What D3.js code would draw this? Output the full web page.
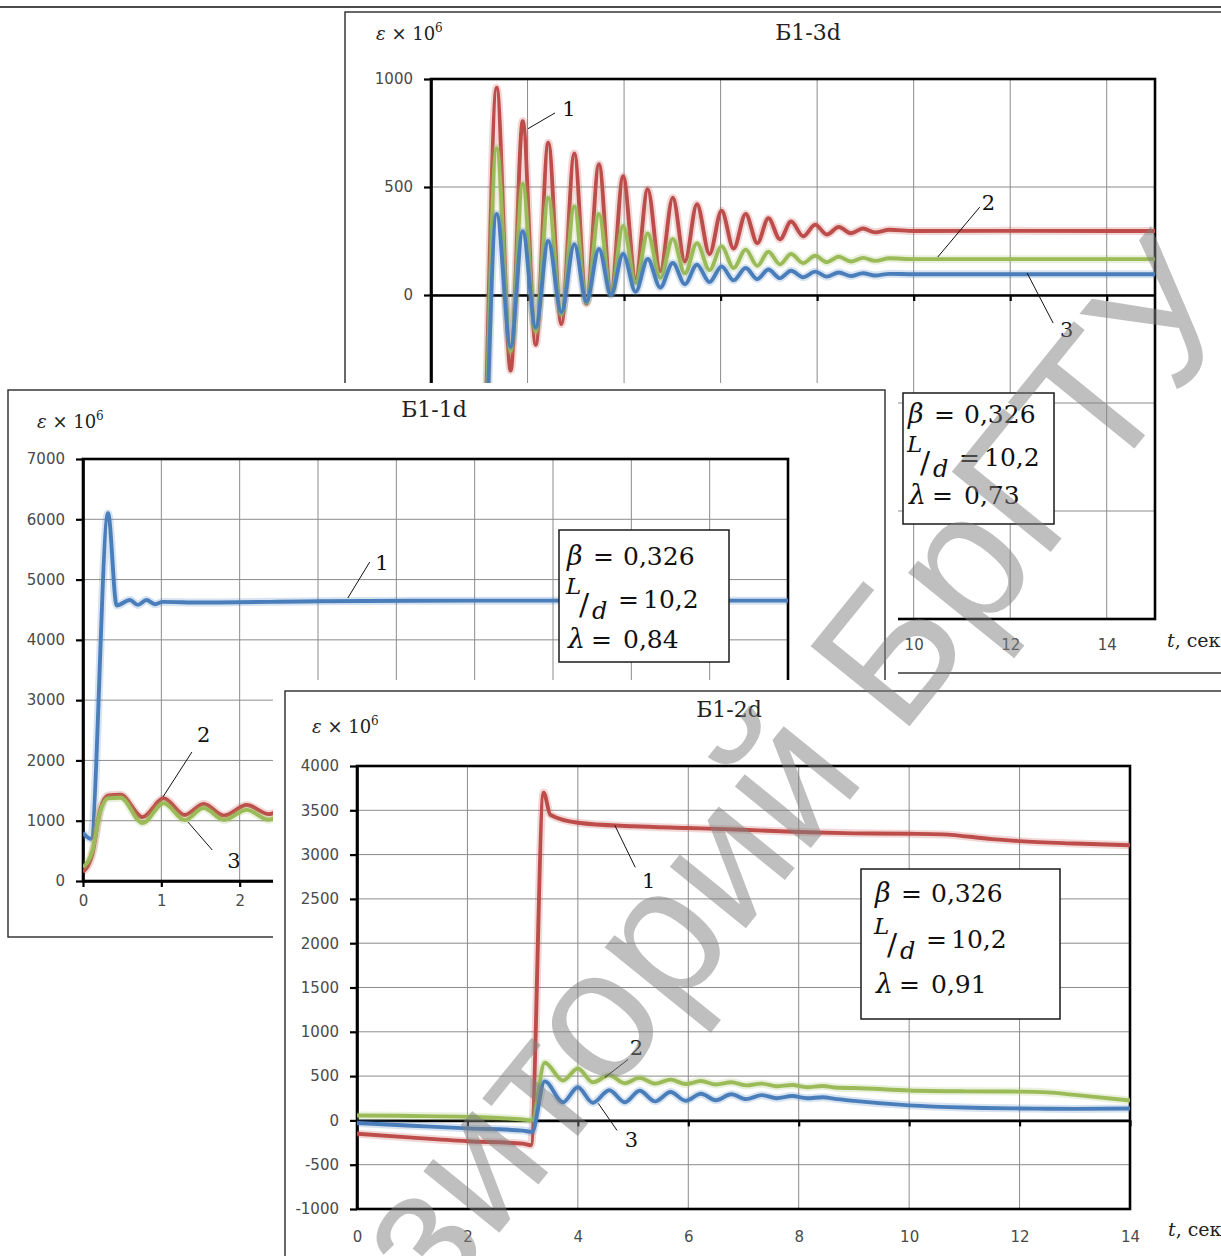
<!DOCTYPE html>
<html><head><meta charset="utf-8">
<script src="https://cdn.jsdelivr.net/npm/d3@7"></script>
<style>body{margin:0;background:#fff}svg{display:block}</style>
</head><body>
<svg id="c" width="1221" height="1256"></svg>
<script>
// ===== Chart Б1-3d (top) =====
const tA = [0, 0.98, 1.36, 1.65, 1.9, 2.17, 2.43, 2.7, 2.97, 3.22, 3.48, 3.73, 3.98, 4.24, 4.49, 4.75, 5.01, 5.26, 5.51, 5.77, 6.02, 6.27, 6.52, 6.76, 6.99, 7.23, 7.46, 7.71, 7.96, 8.2, 8.45, 8.7, 8.95, 9.2, 9.5, 10, 12, 14, 15];
const redA = [-1480, -1480, 960, -350, 805, -230, 705, -135, 655, -40, 605, 10, 550, 75, 490, 110, 450, 155, 420, 190, 390, 215, 375, 240, 355, 258, 340, 272, 325, 280, 315, 286, 308, 290, 302, 296, 297, 296, 296];
const greenA = [-1480, -1480, 680, -260, 515, -170, 450, -90, 410, -35, 375, 5, 320, 55, 285, 80, 260, 100, 240, 115, 225, 125, 210, 135, 200, 142, 190, 148, 182, 152, 177, 155, 172, 158, 170, 166, 166, 166, 166];
const blueA = [-1480, -1480, 375, -240, 295, -150, 250, -80, 235, -30, 213, 0, 190, 15, 167, 35, 148, 50, 140, 60, 132, 68, 125, 74, 118, 78, 112, 82, 108, 85, 104, 88, 101, 90, 98, 96, 96, 96, 96];
const xTicksA = [0, 2, 4, 6, 8, 10, 12, 14];
const yTicksA = [-1500, -1000, -500, 0, 500, 1000];

// ===== Chart Б1-1d (middle) =====
const tB1 = [0, 0.1, 0.32, 0.43, 0.6, 0.7, 0.81, 0.92, 1.02, 1.5, 3, 5, 7, 9];
const blueB = [800, 700, 6100, 4570, 4660, 4580, 4660, 4590, 4630, 4620, 4640, 4650, 4650, 4650];
const tB2 = [0, 0.12, 0.22, 0.32, 0.48, 0.76, 1.03, 1.3, 1.54, 1.8, 2.09, 2.37, 2.65, 2.93, 3.21, 3.5, 4.5, 6, 9];
const redB = [150, 450, 1180, 1420, 1430, 1060, 1370, 1095, 1280, 1085, 1260, 1110, 1240, 1120, 1220, 1140, 1180, 1170, 1170];
const greenB = [230, 500, 1150, 1370, 1380, 960, 1290, 1010, 1210, 1010, 1180, 1015, 1160, 1020, 1140, 1030, 1080, 1070, 1070];
const xTicksB = [0, 1, 2, 3, 4, 5, 6, 7, 8, 9];
const yTicksB = [0, 1000, 2000, 3000, 4000, 5000, 6000, 7000];

// ===== Chart Б1-2d (bottom) =====
const tC1 = [0, 1, 2, 3, 3.15, 3.38, 3.5, 4, 5, 6, 7, 8, 9, 10, 10.6, 11.5, 12, 13, 14];
const redC = [-150, -195, -235, -262, -280, 3700, 3450, 3360, 3320, 3300, 3280, 3255, 3240, 3235, 3228, 3175, 3152, 3125, 3105];
const tC2 = [0, 1, 2, 3, 3.17, 3.4, 3.73, 4.0, 4.27, 4.57, 4.85, 5.12, 5.4, 5.68, 5.95, 6.23, 6.5, 6.78, 7.05, 7.33, 7.6, 7.88, 8.15, 8.43, 8.7, 9, 10, 11, 12, 12.5, 13, 14];
const greenC = [55, 50, 40, 10, 0, 650, 450, 585, 430, 510, 420, 480, 415, 460, 410, 445, 405, 430, 395, 415, 385, 400, 375, 388, 368, 365, 338, 328, 325, 316, 288, 225];
const blueC = [-30, -60, -90, -115, -130, 440, 205, 375, 200, 340, 205, 335, 215, 320, 222, 300, 228, 295, 240, 285, 250, 275, 250, 262, 240, 220, 170, 145, 135, 132, 130, 135];
const xTicksC = [0, 2, 4, 6, 8, 10, 12, 14];
const yTicksC = [-1000, -500, 0, 500, 1000, 1500, 2000, 2500, 3000, 3500, 4000];

const titles = ["Б1-3d", "Б1-1d", "Б1-2d"];
const lambdas = ["0,73", "0,84", "0,91"];
const betaText = "0,326";
const ldText = "10,2";
const seriesNames = ["1", "2", "3"];
const watermark = ["Репозиторий", "БрГТУ"];

const RED = "#bd4d4a", GREEN = "#9bbb59", BLUE = "#4a7eba";
const SERIF = "'DejaVu Serif', 'Liberation Serif', serif";
const SANS = "'DejaVu Sans', Verdana, sans-serif";

const svg = d3.select("#c");

// page header rule
svg.append("line").attr("x1", 0).attr("x2", 1221).attr("y1", 7).attr("y2", 7)
  .attr("stroke", "#111").attr("stroke-width", 1.5);

function drawChart(o) {
  const g = svg.append("g");
  if (o.bg) g.append("rect").attr("x", o.bg[0]).attr("y", o.bg[1]).attr("width", o.bg[2]).attr("height", o.bg[3]).attr("fill", "#fff");
  g.append("rect").attr("x", o.panel[0]).attr("y", o.panel[1]).attr("width", o.panel[2]).attr("height", o.panel[3])
    .attr("fill", "#fff").attr("stroke", "#2a2a2a").attr("stroke-width", 1.4);

  const x = d3.scaleLinear().domain(o.xDom).range([o.plot[0], o.plot[2]]);
  const y = d3.scaleLinear().domain(o.yDom).range([o.plot[3], o.plot[1]]);

  // gridlines
  g.append("g").selectAll("line").data(o.xTicks.filter(d => d > o.xDom[0] && d < o.xDom[1])).join("line")
    .attr("x1", d => x(d)).attr("x2", d => x(d)).attr("y1", o.plot[1]).attr("y2", o.plot[3])
    .attr("stroke", "#8c8c8c").attr("stroke-width", 1);
  g.append("g").selectAll("line").data(o.yTicks.filter(d => d > o.yDom[0] && d < o.yDom[1])).join("line")
    .attr("y1", d => y(d)).attr("y2", d => y(d)).attr("x1", o.plot[0]).attr("x2", o.plot[2])
    .attr("stroke", "#8c8c8c").attr("stroke-width", 1);

  // plot border
  g.append("rect").attr("x", o.plot[0]).attr("y", o.plot[1]).attr("width", o.plot[2] - o.plot[0]).attr("height", o.plot[3] - o.plot[1])
    .attr("fill", "none").attr("stroke", "#000").attr("stroke-width", 2.6);

  // y axis (ticks everywhere, labels only where they are not covered by a later panel)
  const ya = g.append("g").attr("transform", `translate(${o.plot[0]},0)`)
    .call(d3.axisLeft(y).tickValues(o.yTicks).tickSize(7).tickPadding(11).tickSizeOuter(0)
      .tickFormat(d => o.yLabOk(y(d)) ? String(d) : ""));
  ya.select(".domain").attr("stroke", "#000").attr("stroke-width", 2.6);
  ya.selectAll(".tick line").attr("stroke", "#000").attr("stroke-width", 2.2);
  ya.attr("font-family", SANS).attr("font-size", 15);
  ya.selectAll("text").attr("fill", "#4a4a4a");

  // x axis line at zero with ticks
  const xa = g.append("g").attr("transform", `translate(0,${y(0)})`)
    .call(d3.axisBottom(x).tickValues(o.xTicks).tickSize(6).tickSizeOuter(0).tickFormat(""));
  xa.select(".domain").attr("stroke", "#000").attr("stroke-width", 2.6);
  xa.selectAll(".tick line").attr("stroke", "#000").attr("stroke-width", 2.2);

  // x labels at the bottom
  const xl = g.append("g").attr("transform", `translate(0,${o.xLabelY - 10.6})`)
    .call(d3.axisBottom(x).tickValues(o.xTicks.filter(d => o.xLabOk(x(d)))).tickSize(0).tickPadding(0).tickFormat(d => String(d)));
  xl.select(".domain").remove();
  xl.attr("font-family", SANS).attr("font-size", 15);
  xl.selectAll("text").attr("fill", "#4a4a4a");

  // series
  const cid = "clip" + o.id;
  g.append("clipPath").attr("id", cid).append("rect")
    .attr("x", o.plot[0]).attr("y", o.plot[1] - 2).attr("width", o.plot[2] - o.plot[0]).attr("height", o.plot[3] - o.plot[1] + 4);
  const sg = g.append("g").attr("clip-path", `url(#${cid})`);
  const line = d3.line().x(d => x(d[0])).y(d => y(d[1])).curve(d3.curveMonotoneX);
  o.series.forEach(s => {
    const pts = s.t.map((d, i) => [d, s.v[i]]);
    sg.append("path").attr("d", line(pts)).attr("fill", "none").attr("stroke", s.c)
      .attr("stroke-opacity", 0.22).attr("stroke-width", 8).attr("stroke-linejoin", "round");
    sg.append("path").attr("d", line(pts)).attr("fill", "none").attr("stroke", s.c)
      .attr("stroke-width", 3.9).attr("stroke-linejoin", "round");
  });

  // series labels with leader lines (data coordinates)
  o.notes.forEach(n => {
    g.append("line").attr("x1", x(n.a[0])).attr("y1", y(n.a[1])).attr("x2", x(n.b[0])).attr("y2", y(n.b[1]))
      .attr("stroke", "#111").attr("stroke-width", 1);
    g.append("text").attr("x", x(n.l[0])).attr("y", y(n.l[1])).attr("font-family", SERIF).attr("font-size", 21)
      .attr("fill", "#111").text(n.txt);
  });

  // title
  g.append("text").attr("x", o.title[0]).attr("y", o.title[1]).attr("text-anchor", "middle")
    .attr("font-family", SERIF).attr("font-size", 22).attr("fill", "#222").text(o.title[2]);
  // y unit label
  const eps = g.append("text").attr("x", o.eps[0]).attr("y", o.eps[1]).attr("font-family", SERIF).attr("font-size", 18).attr("fill", "#222");
  eps.append("tspan").attr("font-style", "italic").text("ε");
  eps.append("tspan").text(" × 10");
  eps.append("tspan").attr("font-size", 12).attr("dy", -8).text("6");
  // time label
  if (o.tlab) {
    const tl = g.append("text").attr("x", o.tlab[0]).attr("y", o.tlab[1]).attr("font-family", SERIF).attr("font-size", 19).attr("fill", "#222");
    tl.append("tspan").attr("font-style", "italic").text("t");
    tl.append("tspan").text(", сек");
  }

  // parameter box
  const b = o.box, bx = b[0], by = b[1], sh = b[4], r = b[5];
  g.append("rect").attr("x", bx).attr("y", by).attr("width", b[2]).attr("height", b[3])
    .attr("fill", "#fff").attr("stroke", "#1a1a1a").attr("stroke-width", 1.5);
  const T = (tx, ty, s, opt = {}) => g.append("text").attr("x", tx).attr("y", ty).attr("font-family", SERIF)
    .attr("font-size", opt.fs || 25).attr("font-style", opt.it ? "italic" : "normal").attr("fill", "#111").text(s);
  T(bx + 5 + sh, by + r[0], "β", {it: 1, fs: 27});
  T(bx + 31 + sh, by + r[0], "=");
  T(bx + 61 + sh, by + r[0], betaText);
  T(bx + 4 + sh, by + r[1] - 14, "L", {it: 1, fs: 23});
  T(bx + 17 + sh, by + r[1] + 7, "/", {fs: 30});
  T(bx + 30 + sh, by + r[1] + 11, "d", {it: 1, fs: 24});
  T(bx + 56 + sh, by + r[1], "=");
  T(bx + 81 + sh, by + r[1], ldText);
  T(bx + 6 + sh, by + r[2], "λ", {it: 1, fs: 27});
  T(bx + 29 + sh, by + r[2], "=");
  T(bx + 61 + sh, by + r[2], b[6]);
}

// top chart (partly covered by the middle panel: x < 898, y > 383)
drawChart({
  id: "A", panel: [345, 12, 900, 661], xDom: [0, 15], yDom: [-1500, 1000],
  plot: [431, 79, 1155, 619], xTicks: xTicksA, yTicks: yTicksA, xLabelY: 650,
  xLabOk: px => px > 898, yLabOk: py => py < 380,
  series: [{t: tA, v: redA, c: RED}, {t: tA, v: greenA, c: GREEN}, {t: tA, v: blueA, c: BLUE}],
  notes: [
    {a: [2.01, 770], b: [2.57, 843], l: [2.72, 829], txt: seriesNames[0]},
    {a: [10.5, 176], b: [11.37, 407], l: [11.41, 393], txt: seriesNames[1]},
    {a: [12.35, 102], b: [12.89, -130], l: [13.03, -194], txt: seriesNames[2]}
  ],
  title: [808, 40, titles[0]], eps: [376, 40], tlab: [1167, 647],
  box: [903, 393, 151, 131, 0, [30, 73, 111], lambdas[0]]
});

// middle chart (partly covered by the bottom panel: x > 273, y > 680)
drawChart({
  id: "B", bg: [0, 383, 898, 558], panel: [8, 390, 877, 547], xDom: [0, 9], yDom: [0, 7000],
  plot: [83, 459, 788, 881], xTicks: xTicksB, yTicks: yTicksB, xLabelY: 906,
  xLabOk: px => px < 265, yLabOk: py => true,
  series: [{t: tB1, v: blueB, c: BLUE}, {t: tB2, v: redB, c: RED}, {t: tB2, v: greenB, c: GREEN}],
  notes: [
    {a: [3.38, 4693], b: [3.66, 5290], l: [3.73, 5158], txt: seriesNames[0]},
    {a: [1.02, 1393], b: [1.39, 2139], l: [1.455, 2305], txt: seriesNames[1]},
    {a: [1.34, 978], b: [1.65, 514], l: [1.84, 216], txt: seriesNames[2]}
  ],
  title: [434, 417, titles[1]], eps: [37, 428], tlab: null,
  box: [559, 530, 170, 132, 3, [35, 78, 118], lambdas[1]]
});

// bottom chart
drawChart({
  id: "C", bg: [273, 680, 960, 600], panel: [285, 691, 960, 600], xDom: [0, 14], yDom: [-1000, 4000],
  plot: [357, 766, 1130, 1209], xTicks: xTicksC, yTicks: yTicksC, xLabelY: 1242,
  xLabOk: px => true, yLabOk: py => true,
  series: [{t: tC1, v: redC, c: RED}, {t: tC2, v: greenC, c: GREEN}, {t: tC2, v: blueC, c: BLUE}],
  notes: [
    {a: [4.67, 3330], b: [5.04, 2856], l: [5.16, 2618], txt: seriesNames[0]},
    {a: [4.49, 485], b: [4.91, 688], l: [4.94, 734], txt: seriesNames[1]},
    {a: [4.37, 192], b: [4.71, -113], l: [4.85, -305], txt: seriesNames[2]}
  ],
  title: [729, 717, titles[2]], eps: [312, 733], tlab: [1168, 1236],
  box: [861, 869, 199, 150, 9, [33, 79, 124], lambdas[2]]
});

// watermark
const wm = svg.append("g").attr("transform", "translate(900,738) rotate(-51)")
  .attr("font-family", "'Liberation Sans', Arial, sans-serif").attr("font-size", 185)
  .attr("fill", "#808080").attr("fill-opacity", 0.5);
wm.append("text").attr("x", 0).attr("y", 0).text(watermark[1]);
wm.append("text").attr("x", -51).attr("y", 0).attr("text-anchor", "end").text(watermark[0]);
</script>
</body></html>
